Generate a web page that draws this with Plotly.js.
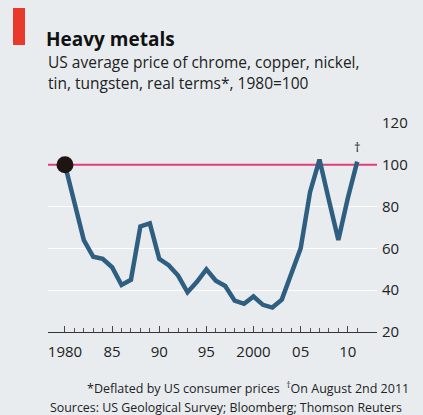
<!DOCTYPE html>
<html>
<head>
<meta charset="utf-8">
<script src="https://cdn.plot.ly/plotly-3.0.1.min.js"></script>
<style>
html,body{margin:0;padding:0;background:#e8ecef;}
#chart{width:423px;height:415px;}
</style>
</head>
<body>
<div id="chart"></div>
<script>
const years = [1980,1981,1982,1983,1984,1985,1986,1987,1988,1989,1990,1991,1992,1993,1994,1995,1996,1997,1998,1999,2000,2001,2002,2003,2004,2005,2006,2007,2008,2009,2010,2011];
const priceIndex = [100,82,64,56,55,51,42.5,45,70.5,72,55,52,47,39,44,50,44.5,42,35,33.5,37,33,31.7,35.5,48,60,87,102.5,83,64,84,101.5];
const xTickVals = [1980,1985,1990,1995,2000,2005,2010];
const xTickText = ["1980","85","90","95","2000","05","10"];
const yTickVals = [20,40,60,80,100,120];
const baseValue = 100;
const xRange = [1978.2, 2013.1];

const W = 423, H = 415;
const L = 48, R = 46, T = 123, B = 83;
const pw = W - L - R, ph = H - T - B;
const px = x => (x - L) / pw;
const py = y => (H - B - y) / ph;

const font = "Open Sans, Noto Sans, sans-serif";

const traces = [
  {
    x: xRange, y: [baseValue, baseValue], type: 'scatter', mode: 'lines',
    line: {color: '#e23d7e', width: 2},
    hoverinfo: 'skip', showlegend: false, cliponaxis: false
  },
  {
    x: years, y: priceIndex, type: 'scatter', mode: 'lines',
    line: {color: '#2f5f80', width: 4.5, shape: 'linear'},
    hoverinfo: 'skip', showlegend: false
  },
  {
    x: [years[0]], y: [priceIndex[0]], type: 'scatter', mode: 'markers',
    marker: {color: '#1e1412', size: 17},
    hoverinfo: 'skip', showlegend: false
  }
];

const layout = {
  width: W, height: H,
  margin: {l: L, r: R, t: T, b: B, pad: 0},
  paper_bgcolor: '#e8ecef',
  plot_bgcolor: '#e8ecef',
  font: {family: font, color: '#222', size: 15},
  showlegend: false,
  title: {
    text: '<b>Heavy metals</b>',
    font: {family: font, size: 19, color: '#111'},
    xref: 'container', yref: 'container',
    x: 46 / W, xanchor: 'left',
    y: 1 - 39 / H, yanchor: 'middle'
  },
  xaxis: {
    range: xRange,
    tickmode: 'array', tickvals: xTickVals, ticktext: xTickText,
    ticks: 'inside', ticklen: 6, tickwidth: 1, tickcolor: '#444',
    minor: {tickmode: 'array', tickvals: years, ticks: 'inside', ticklen: 4, tickwidth: 1, tickcolor: '#555', showgrid: false},
    showline: true, linecolor: '#333', linewidth: 1,
    showgrid: false, zeroline: false,
    tickfont: {family: font, size: 15, color: '#222'},
    ticklabelstandoff: 6,
    fixedrange: true
  },
  yaxis: {
    range: [20, 120],
    side: 'right',
    tickmode: 'array', tickvals: yTickVals,
    ticks: '', showline: false,
    showgrid: true, gridcolor: 'rgba(255,255,255,0.95)', gridwidth: 1.2,
    zeroline: false,
    tickfont: {family: font, size: 15, color: '#222'},
    ticklabelstandoff: 4,
    fixedrange: true
  },
  shapes: [
    {type: 'rect', xref: 'paper', yref: 'paper', x0: px(13), x1: px(25), y0: py(45), y1: py(8),
     fillcolor: '#e8392c', line: {width: 0}}
  ],
  annotations: [
    {xref: 'paper', yref: 'paper', x: px(46), y: py(62), xanchor: 'left', yanchor: 'middle',
     text: 'US average price of chrome, copper, nickel,', showarrow: false,
     font: {family: font, size: 15.5, color: '#222'}},
    {xref: 'paper', yref: 'paper', x: px(46), y: py(83), xanchor: 'left', yanchor: 'middle',
     text: 'tin, tungsten, real terms*, 1980=100', showarrow: false,
     font: {family: font, size: 15.5, color: '#222'}},
    {xref: 'x', yref: 'y', x: years[years.length - 1], y: 108.5, xanchor: 'center', yanchor: 'middle',
     text: '†', showarrow: false, font: {family: font, size: 13, color: '#222'}},
    {xref: 'paper', yref: 'paper', x: px(411), y: py(388), xanchor: 'right', yanchor: 'middle',
     text: '*Deflated by US consumer prices  <sup>†</sup>On August 2nd 2011', showarrow: false,
     font: {family: font, size: 12.5, color: '#222'}},
    {xref: 'paper', yref: 'paper', x: px(48), y: py(407), xanchor: 'left', yanchor: 'middle',
     text: 'Sources: US Geological Survey; Bloomberg; Thomson Reuters', showarrow: false,
     font: {family: font, size: 12.4, color: '#222'}}
  ]
};

Plotly.newPlot('chart', traces, layout, {displayModeBar: false, staticPlot: true});
</script>
</body>
</html>
